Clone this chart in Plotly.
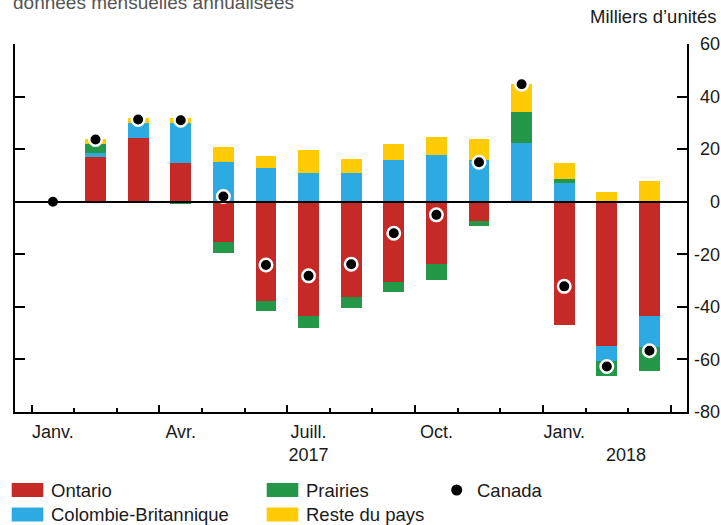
import plotly.graph_objects as go

# ---------------- data ----------------
months = ["Janv.", "Févr.", "Mars", "Avr.", "Mai", "Juin", "Juill.", "Août",
          "Sept.", "Oct.", "Nov.", "Déc.", "Janv.", "Févr.", "Mars"]
x_idx = list(range(len(months)))

ontario = [0, 17.2, 24.2, 14.6, -15.3, -37.6, -43.3, -36.3, -30.6, -23.8, -7.4, -0.3, -46.9, -54.8, -43.4]
colombie = [0, 1.5, 5.7, 15.3, 15.3, 12.7, 10.8, 10.8, 16.0, 17.6, 15.8, 22.2, 7.3, -5.9, -11.8]
prairies = [0, 3.3, -0.6, -1.0, -4.1, -4.1, -4.7, -4.2, -3.7, -6.0, -1.8, 11.8, 1.3, -5.6, -9.3]
reste = [0, 1.7, 1.9, 1.9, 5.7, 4.6, 8.8, 5.5, 5.8, 7.1, 8.0, 10.7, 6.1, 3.7, 7.9]
canada = [0, 23.7, 31.3, 31.0, 2.0, -24.1, -28.2, -23.8, -12.0, -5.0, 15.0, 44.7, -32.2, -62.7, -56.7]

series_names = ["Ontario", "Colombie-Britannique", "Prairies", "Reste du pays"]
canada_name = "Canada"

x_label_pos = [0, 3, 6, 9, 12, 13.45]
x_label_text = ["Janv.", "Avr.", "Juill.<br>2017", "Oct.", "Janv.", "<br>2018"]
y_ticks = [-80, -60, -40, -20, 0, 20, 40, 60]
y_tick_text = ["-80", "-60", "-40", "-20", "0", "20", "40", "60"]

title_text = "données mensuelles annualisées"
unit_text = "Milliers d’unités"

# ---------------- styles ----------------
RED, BLUE, GREEN, YELLOW = "#C52A26", "#2EAAE2", "#249848", "#FFCB05"
series_colors = [RED, BLUE, GREEN, YELLOW]
FONT = "Liberation Sans, Arial, Helvetica, sans-serif"
TXT = "#1a1a1a"

W_PAGE, H_PAGE = 721, 525
ML, MR, MT, MB = 15, 1, 44, 113
plot_w = W_PAGE - ML - MR
plot_h = H_PAGE - MT - MB
x_dom_end = (686.5 - ML) / plot_w


def px_x(px):
    return (px - ML) / plot_w


def px_y(py):
    return (H_PAGE - MB - py) / plot_h


x_range = [-0.89, 14.87]
y_range = [-80, 60]

fig = go.Figure()
for name, vals, col in zip(series_names, [ontario, colombie, prairies, reste], series_colors):
    fig.add_trace(go.Bar(x=x_idx, y=vals, name=name, width=0.49,
                         marker=dict(color=col, line=dict(width=0)),
                         showlegend=False, xaxis="x", yaxis="y"))

fig.add_trace(go.Scatter(x=x_idx, y=canada, name=canada_name, mode="markers",
                         marker=dict(size=12.5, color="black", line=dict(color="white", width=2.5)),
                         showlegend=False, xaxis="x2", yaxis="y2"))

boundaries = [b - 0.5 for b in range(len(months) + 1)]
major_b = [b for i, b in enumerate(boundaries) if i % 3 == 0]

fig.update_layout(
    width=W_PAGE, height=H_PAGE,
    margin=dict(l=ML, r=MR, t=MT, b=MB, pad=0),
    paper_bgcolor="white", plot_bgcolor="white",
    barmode="relative", bargap=0,
    font=dict(family=FONT, size=18, color=TXT),
    showlegend=False,
    xaxis=dict(domain=[0, x_dom_end], range=x_range, showline=True, linecolor="black",
               linewidth=2, tickvals=major_b, ticks="inside", ticklen=7, tickwidth=2,
               tickcolor="black", showticklabels=False, showgrid=False, zeroline=False,
               minor=dict(tickvals=boundaries, ticks="inside", ticklen=4, tickwidth=2,
                          tickcolor="black", showgrid=False)),
    xaxis2=dict(overlaying="x", range=x_range, anchor="free", position=0, side="bottom",
                tickvals=x_label_pos, ticktext=x_label_text, ticks="outside", ticklen=3,
                tickcolor="rgba(0,0,0,0)", showline=False, showgrid=False, zeroline=False,
                tickfont=dict(size=18, color=TXT)),
    yaxis=dict(domain=[0, 1], range=y_range, side="right", anchor="x", showline=True,
               linecolor="black", linewidth=2, mirror="ticks", tickvals=y_ticks,
               ticks="inside", ticklen=10, tickwidth=2, tickcolor="black",
               showticklabels=False, showgrid=False, zeroline=True, zerolinecolor="black",
               zerolinewidth=2),
    yaxis2=dict(overlaying="y", range=y_range, side="left", anchor="free", position=1.0,
                tickvals=y_ticks, ticktext=y_tick_text, ticks="", showline=False,
                showgrid=False, zeroline=False, tickfont=dict(size=18, color=TXT)),
)

try:
    fig.update_yaxes(zerolinelayer="above traces", selector=dict(anchor="x"))
except Exception:
    pass

annotations = [
    dict(text=title_text, xref="paper", yref="paper", x=px_x(11), y=px_y(2.3),
         xanchor="left", yanchor="middle", showarrow=False,
         font=dict(size=19, color="#555555", family=FONT)),
    dict(text=unit_text, xref="paper", yref="paper", x=px_x(718), y=px_y(16.2),
         xanchor="right", yanchor="middle", showarrow=False,
         font=dict(size=18.5, color=TXT, family=FONT)),
]
shapes = []

# legend (manual): positions in pixels
leg_items = [
    (series_names[0], RED, 11.7, 490),
    (series_names[1], BLUE, 11.7, 514.5),
    (series_names[2], GREEN, 266.7, 490),
    (series_names[3], YELLOW, 266.7, 514.5),
]
for name, col, x0, yc in leg_items:
    shapes.append(dict(type="rect", xref="paper", yref="paper",
                       x0=px_x(x0), x1=px_x(x0 + 31.6), y0=px_y(yc - 7), y1=px_y(yc + 7),
                       fillcolor=col, line=dict(width=0)))
    annotations.append(dict(text=name, xref="paper", yref="paper", x=px_x(x0 + 37.5),
                            y=px_y(yc), xanchor="left", yanchor="middle", showarrow=False,
                            font=dict(size=18.5, color=TXT, family=FONT)))
cx, cy, r = 456.7, 490, 5.5
shapes.append(dict(type="circle", xref="paper", yref="paper",
                   x0=px_x(cx - r), x1=px_x(cx + r), y0=px_y(cy + r), y1=px_y(cy - r),
                   fillcolor="black", line=dict(width=0)))
annotations.append(dict(text=canada_name, xref="paper", yref="paper", x=px_x(474.5),
                        y=px_y(cy), xanchor="left", yanchor="middle", showarrow=False,
                        font=dict(size=18.5, color=TXT, family=FONT)))

fig.update_layout(annotations=annotations, shapes=shapes)

fig.write_html("out.html",
               config=dict(displayModeBar=False, staticPlot=True),
               post_script="document.body.style.margin='0';document.body.style.overflow='hidden';")
